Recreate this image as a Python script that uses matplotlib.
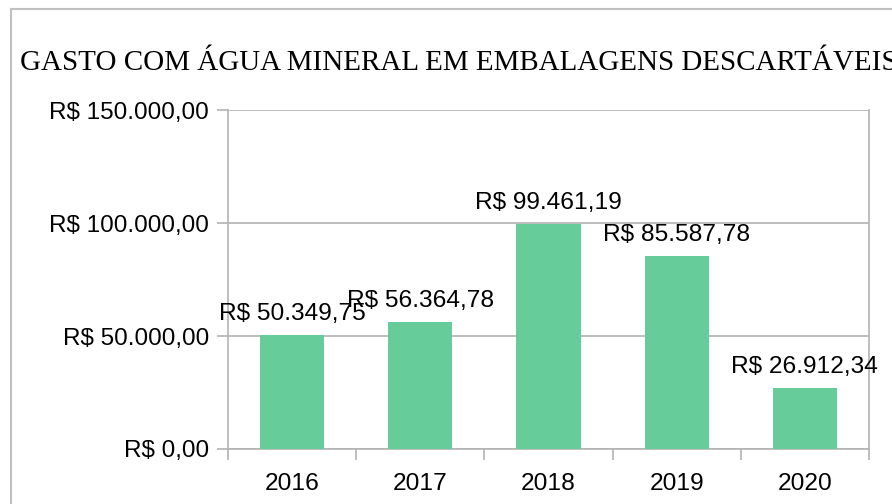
import numpy as np
import matplotlib
matplotlib.use('Agg')
import matplotlib.pyplot as plt
from matplotlib.lines import Line2D
from matplotlib.ticker import FuncFormatter, FixedLocator


# data
anos = ['2016', '2017', '2018', '2019', '2020']
gastos = [50349.75, 56364.78, 99461.19, 85587.78, 26912.34]
yticks = [0, 50000, 100000, 150000]
titulo = 'GASTO COM ÁGUA MINERAL EM EMBALAGENS DESCARTÁVEIS'

cor_barra = '#66cc99'
cor_cinza = '#b3b3b3'


# brazilian currency format
def reais(v, pos=None):
    s = '{:,.2f}'.format(v)
    s = s.replace(',', 'X').replace('.', ',').replace('X', '.')
    return 'R$ ' + s


def px(p):
    # pixels -> points at dpi 100
    return p * 72.0 / 100.0


fig = plt.figure(figsize=(8.92, 5.04), dpi=100)
ax = fig.add_axes([228/892, 1 - 449/504, (869 - 228)/892, (449 - 110)/504])

x = np.arange(len(anos))
bars = ax.bar(x, gastos, width=0.5, color=cor_barra, zorder=3)

ax.set_xlim(-0.5, len(anos) - 0.5)
ax.set_ylim(0, 150000)

# y axis
ax.yaxis.set_major_locator(FixedLocator(yticks))
ax.yaxis.set_major_formatter(FuncFormatter(reais))
ax.grid(axis='y', color=cor_cinza, linewidth=1.2, zorder=0)
ax.tick_params(axis='y', which='major', length=px(11), width=1.2, color=cor_cinza,
               pad=px(8), labelsize=px(24.3))

# x axis: ticks between categories, labels at centers
ax.xaxis.set_major_locator(FixedLocator(np.arange(-0.5, len(anos), 1.0)))
ax.xaxis.set_minor_locator(FixedLocator(x))
ax.set_xticklabels([], minor=False)
ax.set_xticklabels(anos, minor=True)
ax.tick_params(axis='x', which='major', length=px(11), width=1.2, color=cor_cinza)
ax.tick_params(axis='x', which='minor', length=0, pad=px(24), labelsize=px(24.5))

for lado in ['left', 'right', 'bottom']:
    ax.spines[lado].set_color(cor_cinza)
    ax.spines[lado].set_linewidth(1.2)
ax.spines['top'].set_visible(False)

for lab in ax.get_yticklabels() + ax.get_xticklabels(minor=True):
    lab.set_fontfamily('Liberation Sans')

# value labels
for xi, v in zip(x, gastos):
    ax.annotate(reais(v), (xi, v), xytext=(0, px(15)), textcoords='offset points',
                ha='center', va='baseline', fontsize=px(24.5),
                family='Liberation Sans', zorder=4)

# title (cut at the right edge, as in the original)
fig.text(20/892, 1 - 70/504, titulo, ha='left', va='baseline',
         fontsize=px(29.0), family='Liberation Serif')

# outer chart border
fig.add_artist(Line2D([11/892, 1.0], [1 - 9/504, 1 - 9/504], color='#c0c0c0', linewidth=1.5))
fig.add_artist(Line2D([11/892, 11/892], [1 - 9/504, 0.0], color='#c0c0c0', linewidth=1.5))

fig.savefig('out.png', dpi=100)
